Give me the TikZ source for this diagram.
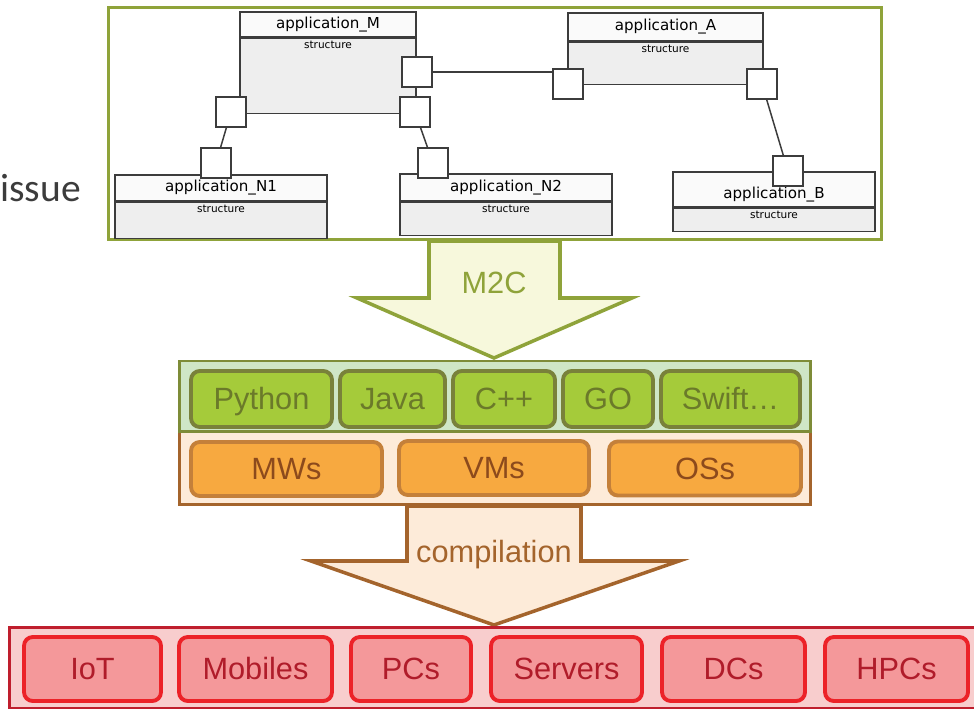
\documentclass[tikz,border=0pt]{standalone}
\usepackage{fontspec}
\usepackage{tikz}
\setmainfont{Liberation Sans}
\newfontfamily\umlfont{DejaVu Sans}
\newfontfamily\issuefont{Carlito}

\definecolor{umlline}{RGB}{60,60,60}
\definecolor{umlgray}{RGB}{238,238,238}
\definecolor{umlwhite}{RGB}{250,250,250}
\definecolor{framegreen}{RGB}{143,163,58}
\definecolor{paleyellow}{RGB}{247,248,220}
\definecolor{mintfill}{RGB}{207,230,198}
\definecolor{mintline}{RGB}{126,140,56}
\definecolor{langfill}{RGB}{165,203,58}
\definecolor{langline}{RGB}{121,129,58}
\definecolor{langtext}{RGB}{107,122,42}
\definecolor{peachfill}{RGB}{253,235,217}
\definecolor{brownline}{RGB}{164,100,44}
\definecolor{orangefill}{RGB}{247,169,64}
\definecolor{orangeline}{RGB}{196,128,58}
\definecolor{browntext}{RGB}{140,74,28}
\definecolor{pinkfill}{RGB}{248,205,205}
\definecolor{darkred}{RGB}{191,30,45}
\definecolor{redfill}{RGB}{244,152,154}
\definecolor{redline}{RGB}{236,34,40}
\definecolor{redtext}{RGB}{176,28,42}

\begin{document}
\begin{tikzpicture}[x=0.02cm, y=-0.02cm,
        umlhead/.style={draw=umlline, fill=umlwhite, line width=0.85pt, inner sep=0pt,
            font=\umlfont\fontsize{8.6pt}{10pt}\selectfont},
        umlbody/.style={draw=umlline, fill=umlgray, line width=0.85pt, inner sep=0pt, anchor=north,
            label={[anchor=north, inner sep=1.5pt, font=\umlfont\fontsize{6pt}{7pt}\selectfont]north:structure}},
        port/.style={draw=umlline, fill=white, line width=0.85pt, minimum size=0.6cm, inner sep=0pt},
        umlconn/.style={draw=umlline, line width=0.85pt},
        bigtxt/.style={font=\fontsize{17.5pt}{20pt}\selectfont, text height=12.5pt, text depth=0pt},
        langbox/.style={bigtxt, draw=langline, fill=langfill, text=langtext, line width=2.2pt,
            rounded corners=5pt, minimum height=1.12cm},
        sysbox/.style={bigtxt, draw=orangeline, fill=orangefill, text=browntext, line width=2.2pt,
            rounded corners=5pt, minimum height=1.08cm},
        hwbox/.style={bigtxt, draw=redline, fill=redfill, text=redtext, line width=2.2pt,
            rounded corners=5pt, minimum height=1.28cm}]

                \useasboundingbox (0,0) rectangle (974,709);

                % Model
                \node[draw=framegreen, fill=white, line width=1.7pt, minimum width=15.48cm,
                    minimum height=4.66cm] (model) at (495,123.5) {};
                \node[anchor=west, inner sep=0pt, text=umlline,
                    font=\issuefont\fontsize{22.5pt}{26pt}\selectfont] (issue) at (0,188) {issue};

                \node[umlhead, minimum width=3.52cm, minimum height=0.5cm] (Mh) at (328,24.5) {application\_M};
                \node[umlbody, minimum width=3.52cm, minimum height=1.5cm] (Mb) at (Mh.south) {};
                \node[umlhead, minimum width=3.9cm, minimum height=0.56cm] (Ah) at (665.5,27) {application\_A};
                \node[umlbody, minimum width=3.9cm, minimum height=0.84cm] (Ab) at (Ah.south) {};
                \node[umlhead, minimum width=4.24cm, minimum height=0.52cm] (N1h) at (221,188) {application\_N1};
                \node[umlbody, minimum width=4.24cm, minimum height=0.72cm] (N1b) at (N1h.south) {};
                \node[umlhead, minimum width=4.24cm, minimum height=0.54cm] (N2h) at (506,187.5) {application\_N2};
                \node[umlbody, minimum width=4.24cm, minimum height=0.66cm] (N2b) at (N2h.south) {};
                \node[umlhead, minimum width=4.04cm, minimum height=0.7cm, text height=12pt] (Bh) at (774,189.5) {application\_B};
                \node[umlbody, minimum width=4.04cm, minimum height=0.46cm] (Bb) at (Bh.south) {};

                % Ports
                \node[port] (pMr) at (417,72) {};
                \node[port] (pMl) at (231,112) {};
                \node[port] (pMd) at (415,112) {};
                \node[port] (pAl) at (568,84) {};
                \node[port] (pAr) at (762,84) {};
                \node[port] (pN1) at (216,163) {};
                \node[port] (pN2) at (433,163) {};
                \node[port] (pB) at (788,171) {};

                % Links
                \draw[umlconn] (pMr.east) -- (pMr.east -| pAl.west);
                \draw[umlconn] (pMl) -- (pN1);
                \draw[umlconn] (pMd) -- (pN2);
                \draw[umlconn] (pAr) -- (pB);

                % M2C
                \draw[draw=framegreen, fill=paleyellow, line width=2pt, line join=miter]
                    (429,241) -- (429,298) -- (357,298) -- (494,358) -- (632,298) -- (560,298) -- (560,241) -- cycle;
                \node[bigtxt, text=framegreen] (m2c) at (494,283) {M2C};

                % Languages and systems
                \node[draw=brownline, fill=peachfill, line width=1.7pt, minimum width=12.64cm,
                    minimum height=1.46cm] (syslayer) at (495,468.5) {};
                \node[draw=mintline, fill=mintfill, line width=1.7pt, minimum width=12.64cm,
                    minimum height=1.42cm] (langlayer) at (495,396.5) {};

                \node[langbox, minimum width=2.82cm] (python) at (261.5,399) {Python};
                \node[langbox, minimum width=2.10cm] (java) at (392.5,399) {Java};
                \node[langbox, minimum width=2.04cm] (cpp) at (504,399) {C++};
                \node[langbox, minimum width=1.80cm] (go) at (608,399) {GO};
                \node[langbox, minimum width=2.78cm] (swift) at (730.5,399) {Swift…};

                \node[sysbox, minimum width=3.82cm] (mws) at (286.5,469) {MWs};
                \node[sysbox, minimum width=3.80cm] (vms) at (494,468) {VMs};
                \node[sysbox, minimum width=3.84cm] (oss) at (705,468.5) {OSs};

                % compilation
                \draw[draw=brownline, fill=peachfill, line width=2pt, line join=miter]
                    (407,506) -- (407,561) -- (311,561) -- (494,625) -- (679,561) -- (581,561) -- (581,506) -- cycle;
                \node[bigtxt, text=brownline] (compil) at (494,552) {compilation};

                % Targets
                \node[draw=darkred, fill=pinkfill, line width=1.7pt, minimum width=19.42cm,
                    minimum height=1.62cm] (hwlayer) at (494.5,667.5) {};

                \node[hwbox, minimum width=2.74cm] (iot) at (92.5,669) {IoT};
                \node[hwbox, minimum width=3.06cm] (mobiles) at (255.5,669) {Mobiles};
                \node[hwbox, minimum width=2.40cm] (pcs) at (411,669) {PCs};
                \node[hwbox, minimum width=3.02cm] (servers) at (566.5,669) {Servers};
                \node[hwbox, minimum width=2.86cm] (dcs) at (733.5,669) {DCs};
                \node[hwbox, minimum width=2.86cm] (hpcs) at (896.5,669) {HPCs};
            \end{tikzpicture}
\end{document}
